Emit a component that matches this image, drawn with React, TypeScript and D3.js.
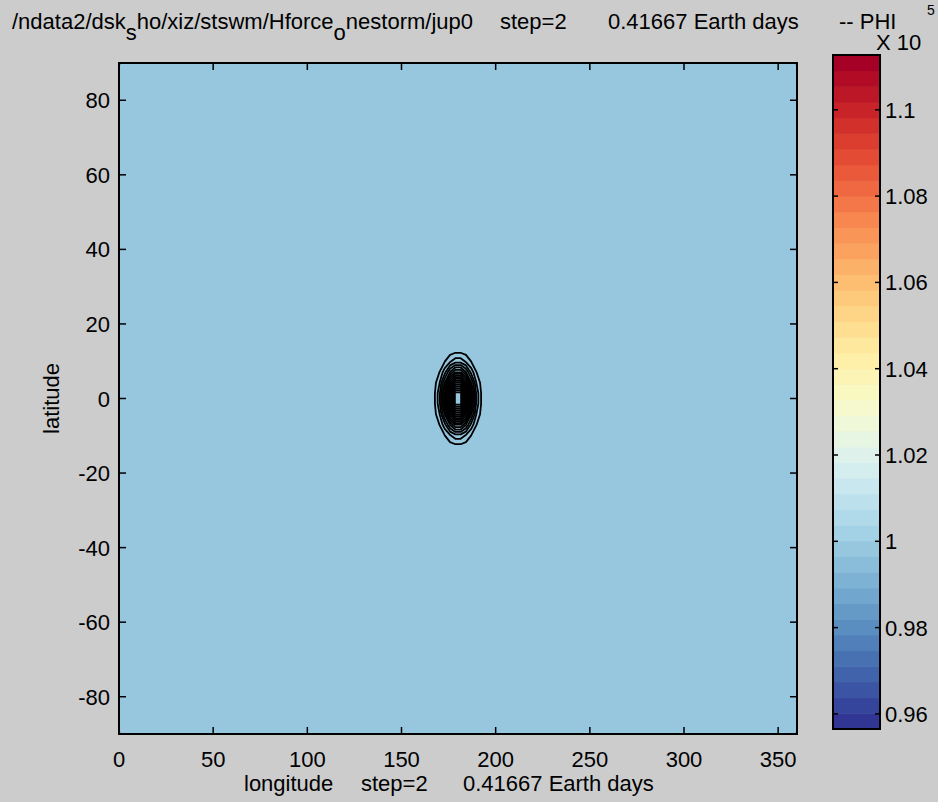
import React from "react";
import * as d3 from "d3";

// Figure size
const W = 938;
const H = 802;

// Model grid (T42-like Gaussian grid, 128 x 64)
const NX = 128;
const NY = 64;
const LON_STEP = 360 / NX;
const LAT_STEP = 180 / NY;

// Single-storm geopotential forcing
const PHI_MEAN = 99900;
const STORM_LON = 180;
const STORM_LAT = 0;
const STORM_AMP = 100;
const STORM_RADIUS = 7; // degrees (e-folding)

// Contour levels drawn as black lines
const CONTOUR_LEVELS = [
  99905, 99910, 99915, 99920, 99925, 99930, 99935, 99940, 99945, 99950,
  99955, 99960, 99965, 99970, 99975, 99980, 99985, 99990, 99995,
];

// Colour axis and colormap
const CAXIS = [95650, 111270];
const N_COLORS = 43;

// Tick values
const LON_TICKS = [0, 50, 100, 150, 200, 250, 300, 350];
const LAT_TICKS = [-80, -60, -40, -20, 0, 20, 40, 60, 80];
const CBAR_TICKS = [96000, 98000, 100000, 102000, 104000, 106000, 108000, 110000];

const FONT = "'Liberation Sans', Arial, Helvetica, sans-serif";
const FS = 22;

function buildField(): number[] {
  const vals: number[] = new Array(NX * NY);
  for (let j = 0; j < NY; j++) {
    const lat = 90 - (j + 0.5) * LAT_STEP;
    for (let i = 0; i < NX; i++) {
      const lon = (i + 0.5) * LON_STEP;
      const dl = lon - STORM_LON;
      const dp = lat - STORM_LAT;
      const r2 = dl * dl + dp * dp;
      vals[j * NX + i] = PHI_MEAN + STORM_AMP * Math.exp(-r2 / (STORM_RADIUS * STORM_RADIUS));
    }
  }
  return vals;
}

export default function App() {
  const plot = { left: 119, right: 797, top: 63, bottom: 734 };
  const cbar = { left: 833, right: 880, top: 55, bottom: 729 };

  const x = d3.scaleLinear().domain([0, 360]).range([plot.left, plot.right]);
  const y = d3.scaleLinear().domain([90, -90]).range([plot.top, plot.bottom]);
  const cy = d3.scaleLinear().domain(CAXIS).range([cbar.bottom, cbar.top]);

  const colors = d3.range(N_COLORS).map((k) => d3.interpolateRdYlBu(1 - k / (N_COLORS - 1)));
  const bandEdges = d3.range(N_COLORS + 1).map((k) => CAXIS[0] + (k * (CAXIS[1] - CAXIS[0])) / N_COLORS);

  const field = buildField();

  const gridToPlot = d3.geoTransform({
    point: function (this: any, px: number, py: number) {
      this.stream.point(x(px * LON_STEP), y(90 - py * LAT_STEP));
    },
  });
  const path = d3.geoPath(gridToPlot);

  const filled = d3.contours().size([NX, NY]).thresholds(bandEdges.slice(0, N_COLORS))(field);
  const lines = d3.contours().size([NX, NY]).thresholds(CONTOUR_LEVELS)(field);

  const tickLen = 7;
  const cTick = 5;

  return (
    <svg
      width={W}
      height={H}
      style={{ position: "absolute", left: 0, top: 0, display: "block" }}
      fontFamily={FONT}
    >
      <rect x={0} y={0} width={W} height={H} fill="#cccccc" />

      {/* Title */}
      <g fontSize={FS} fill="#000">
        <text x={12} y={29} xmlSpace="preserve">
          /ndata2/dsk
          <tspan dy={11}>s</tspan>
          <tspan dy={-11}>ho/xiz/stswm/Hforce</tspan>
          <tspan dy={11}>o</tspan>
          <tspan dy={-11}>nestorm/jup0</tspan>
          <tspan x={500}>step=2</tspan>
          <tspan x={608}>0.41667 Earth days</tspan>
          <tspan x={839}>-- PHI</tspan>
        </text>
        <text x={876} y={50}>X 10</text>
        <text x={927} y={15} fontSize={14}>5</text>
      </g>

      {/* Filled field */}
      <defs>
        <clipPath id="plotClip">
          <rect x={plot.left} y={plot.top} width={plot.right - plot.left} height={plot.bottom - plot.top} />
        </clipPath>
      </defs>
      <g clipPath="url(#plotClip)">
        {filled.map((c, k) =>
          c.coordinates.length ? (
            <path key={`f${k}`} d={path(c as any) || ""} fill={colors[k]} stroke="none" />
          ) : null
        )}
        {lines.map((c, k) =>
          c.coordinates.length ? (
            <path
              key={`l${k}`}
              d={path(c as any) || ""}
              fill="none"
              stroke="#000"
              strokeWidth={1.8}
              strokeLinejoin="round"
            />
          ) : null
        )}
      </g>

      {/* Axes box */}
      <rect
        x={plot.left}
        y={plot.top}
        width={plot.right - plot.left}
        height={plot.bottom - plot.top}
        fill="none"
        stroke="#000"
        strokeWidth={2}
      />

      {/* Ticks */}
      <g stroke="#000" strokeWidth={1.5}>
        {LON_TICKS.map((t) => (
          <g key={`xt${t}`}>
            <line x1={x(t)} x2={x(t)} y1={plot.bottom} y2={plot.bottom - tickLen} />
            <line x1={x(t)} x2={x(t)} y1={plot.top} y2={plot.top + tickLen} />
          </g>
        ))}
        {LAT_TICKS.map((t) => (
          <g key={`yt${t}`}>
            <line x1={plot.left} x2={plot.left + tickLen} y1={y(t)} y2={y(t)} />
            <line x1={plot.right} x2={plot.right - tickLen} y1={y(t)} y2={y(t)} />
          </g>
        ))}
      </g>
      <g fontSize={FS} fill="#000">
        {LON_TICKS.map((t) => (
          <text key={`xl${t}`} x={x(t)} y={767} textAnchor="middle">
            {t}
          </text>
        ))}
        {LAT_TICKS.map((t) => (
          <text key={`yl${t}`} x={plot.left - 9} y={y(t) + 8} textAnchor="end">
            {t}
          </text>
        ))}
      </g>

      {/* Axis labels */}
      <g fontSize={FS} fill="#000">
        <text x={244} y={791} xmlSpace="preserve">
          longitude
          <tspan x={361}>step=2</tspan>
          <tspan x={463}>0.41667 Earth days</tspan>
        </text>
        <text x={59} y={y(0)} textAnchor="middle" transform={`rotate(-90 59 ${y(0)})`}>
          latitude
        </text>
      </g>

      {/* Colorbar */}
      <g>
        {colors.map((c, k) => (
          <rect
            key={`cb${k}`}
            x={cbar.left}
            y={cy(bandEdges[k + 1])}
            width={cbar.right - cbar.left}
            height={cy(bandEdges[k]) - cy(bandEdges[k + 1]) + 0.5}
            fill={c}
          />
        ))}
        <rect
          x={cbar.left}
          y={cbar.top}
          width={cbar.right - cbar.left}
          height={cbar.bottom - cbar.top}
          fill="none"
          stroke="#000"
          strokeWidth={2}
        />
        <g stroke="#000" strokeWidth={1.5}>
          {CBAR_TICKS.map((t) => (
            <g key={`ct${t}`}>
              <line x1={cbar.left} x2={cbar.left + cTick} y1={cy(t)} y2={cy(t)} />
              <line x1={cbar.right} x2={cbar.right - cTick} y1={cy(t)} y2={cy(t)} />
            </g>
          ))}
        </g>
        <g fontSize={FS} fill="#000">
          {CBAR_TICKS.map((t) => (
            <text key={`cl${t}`} x={cbar.right + 5} y={cy(t) + 8}>
              {String(+(t / 1e5).toFixed(2))}
            </text>
          ))}
        </g>
      </g>
    </svg>
  );
}
